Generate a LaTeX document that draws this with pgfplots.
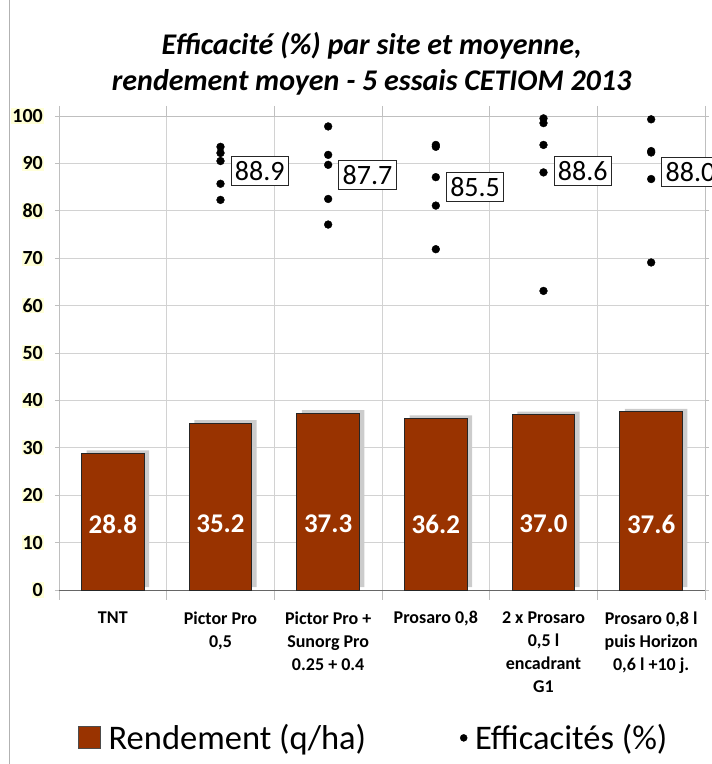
\documentclass[border=0pt]{standalone}
\usepackage{pgfplots}
\pgfplotsset{compat=1.18}
\usepackage{fontspec}
\setmainfont{Carlito}
\usetikzlibrary{shadows}
\definecolor{barbrown}{RGB}{153,51,0}
\definecolor{tickhl}{RGB}{255,255,215}
\begin{document}
\begin{tikzpicture}[x=1pt,y=1pt]
\useasboundingbox (0,0) rectangle (712,764);
\draw[gray!60, line width=1pt] (9,0) -- (9,764);
\begin{axis}[
  at={(59pt,174pt)}, anchor=south west,
  scale only axis, width=646pt, height=474pt,
  xmin=-0.5, xmax=5.5, ymin=0, ymax=100,
  ytick={0,10,...,100},
  xtick={0,...,5},
  xticklabels={TNT, {Pictor Pro\\0,5}, {Pictor Pro +\\Sunorg Pro\\0.25 + 0.4}, {Prosaro 0,8}, {2 x Prosaro\\0,5 l\\encadrant\\G1}, {Prosaro 0,8 l\\puis Horizon\\0,6 l +10 j.}},
  x tick style={draw=none},
  minor xtick={-0.5,0.5,...,5.5},
  xminorgrids=true, ymajorgrids=true,
  minor x tick style={draw=gray!50, line width=0.8pt},
  minor tick length=10pt,
  major tick length=4pt,
  tick align=outside,
  y tick style={draw=gray!50, line width=0.8pt},
  grid style={gray!35, line width=0.8pt},
  major grid style={gray!35, line width=0.8pt},
  minor grid style={gray!35, line width=0.8pt},
  axis line style={gray!50, line width=0.8pt},
  /pgf/number format/assume math mode=true,
  yticklabel style={font=\bfseries\fontsize{20}{22}\selectfont, fill=tickhl, inner sep=1pt, xshift=-11pt},
  xticklabel style={font=\bfseries\fontsize{18}{23}\selectfont, align=center, anchor=north, yshift=-14pt},
  extra y ticks={0},
  extra y tick labels={},
  extra y tick style={grid=major, major grid style={gray!80!black, line width=1pt}, tick style={draw=none}, yticklabel style={fill=none}},
  title={Efficacité (\%) par site et moyenne,\\rendement moyen - 5 essais CETIOM 2013},
  title style={font=\bfseries\itshape\fontsize{30}{36}\selectfont, align=center, at={(axis description cs:0.484,1.097)}, anchor=center},
  legend style={at={(axis description cs:0.487,-0.312)}, anchor=center, draw=none, fill=none, legend columns=2, font=\fontsize{34.5}{38}\selectfont,
    /tikz/every odd column/.append style={column sep=6pt},
    /tikz/every even column/.append style={column sep=92pt}},
]
\addplot[ybar, bar width=0.58, bar shift=0pt, fill=barbrown, draw=black!85, line width=0.9pt,
  drop shadow={shadow xshift=5pt, shadow yshift=3pt, fill=black!20, draw=none, opacity=1}, forget plot]
  coordinates {(0,28.8) (1,35.2) (2,37.3) (3,36.2) (4,37.0) (5,37.6)};
\addplot[only marks, mark=*, mark size=3.9pt, black, forget plot]
  coordinates {(1,93.5) (1,92.2) (1,90.5) (1,85.7) (1,82.3)
               (2,97.8) (2,91.8) (2,89.7) (2,82.5) (2,77.1)
               (3,93.9) (3,93.5) (3,87.1) (3,81.1) (3,71.9)
               (4,99.5) (4,98.5) (4,93.9) (4,88.1) (4,63.1)
               (5,99.3) (5,92.6) (5,92.3) (5,86.7) (5,69.1)};
\addplot[draw=none, mark=none, forget plot, point meta=explicit symbolic, nodes near coords,
  nodes near coords style={draw=black!85, fill=white, anchor=west, xshift=10pt, font=\fontsize{28}{28}\selectfont, inner xsep=4pt, inner ysep=5pt, line width=0.9pt}]
  coordinates {(1,88.4)[88.9] (2,87.5)[87.7] (3,85.0)[85.5] (4,88.4)[88.6] (5,88.2)[88.0]};
\addplot[draw=none, mark=none, forget plot, point meta=explicit symbolic, nodes near coords,
  nodes near coords style={anchor=center, text=white, font=\bfseries\fontsize{27}{27}\selectfont}]
  coordinates {(0,13.9)[28.8] (1,13.9)[35.2] (2,13.9)[37.3] (3,13.9)[36.2] (4,13.9)[37.0] (5,13.9)[37.6]};
\addlegendimage{legend image code/.code={\draw[fill=barbrown, draw=black!70, line width=0.8pt] (0pt,-11pt) rectangle (22pt,11pt);}}
\addlegendentry{Rendement (q/ha)}
\addlegendimage{only marks, mark=*, mark size=3.5pt, black}
\addlegendentry{Efficacités (\%)}
\end{axis}
\end{tikzpicture}
\end{document}
